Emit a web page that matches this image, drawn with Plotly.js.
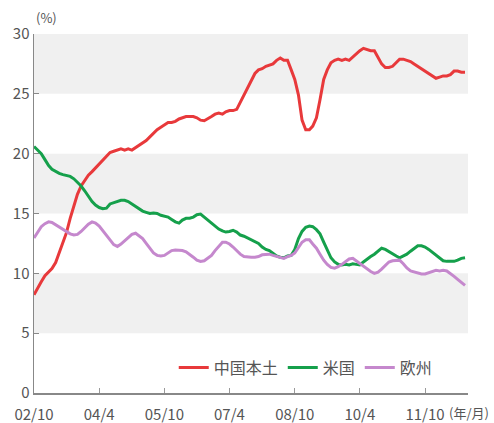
<!DOCTYPE html>
<html>
<head>
<meta charset="utf-8">
<script src="https://cdn.plot.ly/plotly-3.0.1.min.js"></script>
<style>html,body{margin:0;padding:0;background:#fff;}#chart{width:494px;height:423px;}</style>
</head>
<body>
<div id="chart"></div>
<script>
// Monthly shares (%) from 2002/10 onward
const seriesNames = ['中国本土', '米国', '欧州'];
const startYear = 2002, startMonth = 10;

const china = [8.2,8.8,9.3,9.8,10.1,10.4,10.9,11.7,12.5,13.4,14.6,15.7,16.6,17.3,17.8,18.2,18.5,18.8,19.1,19.4,
19.8,20.1,20.2,20.3,20.4,20.3,20.4,20.3,20.5,20.7,20.9,21.1,21.4,21.7,22.0,22.2,22.4,22.6,22.6,22.7,
22.9,23.0,23.1,23.1,23.1,23.0,22.8,22.75,22.9,23.1,23.3,23.4,23.3,23.5,23.6,23.6,23.7,24.3,25.0,25.6,
26.2,26.7,27.0,27.1,27.3,27.4,27.5,27.8,28.0,27.8,27.8,27.0,26.2,24.9,22.8,22.0,22.0,22.3,23.0,24.5,
26.2,27.0,27.6,27.8,27.9,27.8,27.9,27.8,28.1,28.3,28.6,28.8,28.7,28.6,28.6,28.1,27.5,27.2,27.2,27.3,
27.6,27.9,27.9,27.8,27.7,27.5,27.3,27.1,26.9,26.7,26.5,26.3,26.4,26.5,26.5,26.6,26.9,26.9,26.8,26.8];

const usa = [20.6,20.3,20.0,19.5,19.0,18.7,18.5,18.35,18.25,18.15,18.1,17.9,17.6,17.3,16.9,16.4,16.0,15.7,15.5,15.4,
15.45,15.8,15.9,16.0,16.1,16.1,16.0,15.8,15.6,15.35,15.2,15.1,15.0,15.05,15.0,14.85,14.8,14.7,14.5,14.3,
14.2,14.45,14.6,14.6,14.7,14.9,14.95,14.7,14.4,14.2,13.95,13.7,13.55,13.45,13.5,13.6,13.45,13.2,13.1,12.95,
12.8,12.7,12.5,12.2,12.0,11.9,11.65,11.45,11.35,11.3,11.45,11.5,12.0,12.9,13.5,13.85,13.95,13.9,13.65,13.3,
12.6,11.9,11.3,10.95,10.75,10.7,10.75,10.7,10.8,10.75,10.7,10.95,11.2,11.4,11.6,11.85,12.1,12.0,11.8,11.65,
11.45,11.3,11.45,11.6,11.85,12.1,12.3,12.3,12.2,12.0,11.75,11.5,11.25,11.05,11.0,11.0,11.0,11.1,11.25,11.3];

const europe = [12.95,13.4,13.9,14.15,14.3,14.25,14.05,13.85,13.65,13.45,13.3,13.2,13.25,13.5,13.8,14.1,14.3,14.2,13.95,13.6,
13.2,12.8,12.4,12.25,12.45,12.7,13.0,13.25,13.35,13.15,12.9,12.5,12.1,11.7,11.5,11.45,11.5,11.7,11.9,11.95,
11.95,11.9,11.8,11.6,11.35,11.1,11.0,11.05,11.3,11.5,11.9,12.3,12.6,12.6,12.45,12.2,11.9,11.6,11.4,11.35,
11.35,11.35,11.4,11.55,11.6,11.6,11.5,11.4,11.3,11.25,11.4,11.5,11.7,12.2,12.6,12.8,12.8,12.45,12.1,11.6,
11.1,10.75,10.5,10.43,10.55,10.75,11.0,11.2,11.25,11.05,10.85,10.6,10.35,10.15,10.0,10.1,10.35,10.7,10.95,11.05,
11.1,11.1,10.8,10.45,10.2,10.1,10.0,9.95,9.95,10.05,10.2,10.25,10.2,10.25,10.2,10.0,9.75,9.5,9.25,9.0];

const tickDates = ['2004-04-01','2005-10-01','2007-04-01','2008-10-01','2010-04-01','2011-10-01'];
const tickLabels = ['04/4','05/10','07/4','08/10','10/4','11/10'];
const firstTickLabel = '02/10';
const yTicks = [0,5,10,15,20,25,30];

function monthDate(i) {
  const t = (startMonth - 1) + i;
  const y = startYear + Math.floor(t / 12);
  const m = (t % 12) + 1;
  return y + '-' + String(m).padStart(2, '0') + '-01';
}
const xs = china.map((_, i) => monthDate(i));

const colors = ['#e8393b', '#15a04b', '#c588cd'];
const data = [china, usa, europe].map((vals, k) => ({
  x: xs, y: vals, type: 'scatter', mode: 'lines', name: seriesNames[k],
  line: {color: colors[k], width: 3}
}));

const FONT = '"Noto Sans CJK JP", "Noto Sans", sans-serif';
const bands = [[5,10],[15,20],[25,30]].map(b => ({
  type: 'rect', xref: 'paper', x0: 0, x1: 1, yref: 'y', y0: b[0], y1: b[1],
  fillcolor: '#f0f0f0', line: {width: 0}, layer: 'below'
}));

const layout = {
  width: 494, height: 423,
  margin: {l: 34, r: 26, t: 33.5, b: 29.5},
  paper_bgcolor: '#ffffff', plot_bgcolor: '#ffffff',
  font: {family: FONT, color: '#555555', size: 14},
  showlegend: true,
  legend: {
    orientation: 'h', x: 0.322, xanchor: 'left', y: 0.071, yanchor: 'middle',
    bgcolor: 'rgba(0,0,0,0)', itemgap: 17, font: {size: 16, color: '#555555', family: FONT}
  },
  xaxis: {
    type: 'date', range: ['2002-10-01', '2012-09-26'],
    tickmode: 'array', tickvals: ['2002-10-01'].concat(tickDates), ticktext: [firstTickLabel].concat(tickLabels),
    ticks: 'inside', ticklen: 5, tickcolor: '#999999', tickwidth: 1,
    showline: true, linecolor: '#888888', linewidth: 1.5,
    showgrid: false, zeroline: false, fixedrange: true,
    ticklabelstandoff: 7, tickfont: {size: 15, color: '#555555'}
  },
  yaxis: {
    range: [0, 30], tickmode: 'array', tickvals: yTicks,
    ticks: 'inside', ticklen: 5, tickcolor: '#888888', tickwidth: 1,
    showline: true, linecolor: '#888888', linewidth: 1.5,
    showgrid: false, zeroline: false, fixedrange: true,
    tickfont: {size: 15, color: '#555555'}
  },
  shapes: bands,
  annotations: [
    {text: '(%)', xref: 'paper', yref: 'paper', x: 0, y: 1, xanchor: 'left', yanchor: 'bottom',
     yshift: 5, showarrow: false, font: {size: 13, color: '#555555'}},
    {text: '(年/月)', xref: 'paper', yref: 'paper', x: 1.052, y: 0, xanchor: 'right', yanchor: 'top',
     yshift: -8, showarrow: false, font: {size: 13, color: '#555555'}}
  ]
};

Plotly.newPlot('chart', data, layout, {displayModeBar: false, staticPlot: true});
</script>
</body>
</html>
